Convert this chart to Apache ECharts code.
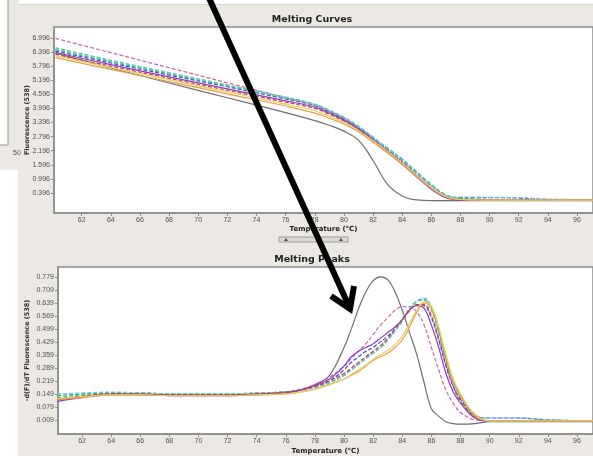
<!DOCTYPE html>
<html lang="en">
<head>
	<meta charset="UTF-8">
	<title>Melting Curves / Melting Peaks</title>
	<script src="https://cdn.jsdelivr.net/npm/echarts@6/dist/echarts.min.js"></script>
	<style>html,body{margin:0;padding:0;background:#ece9e4;}</style>
</head>
<body>
	<div id="main" style="width:593px;height:456px;"></div>
	<script type="text/javascript">
		var myChart = echarts.init(document.getElementById('main'));

		// temperatures (°C) the curves were read at
		var tempUpper = [60.2, 64, 68, 72, 76, 78, 79, 80, 81, 82, 83, 84, 85, 86, 87, 88, 89, 90, 92, 94, 97.1];
		var tempLower = [60.3, 62, 64, 66, 68, 70, 72, 74, 76, 77, 78, 79, 80, 80.5, 81, 81.5, 82, 82.5, 83, 83.5,
			84, 84.5, 85, 85.5, 86, 86.5, 87, 87.5, 88, 89, 90, 92, 94, 97.1];

		// tick labels
		var tempTicks = [62, 64, 66, 68, 70, 72, 74, 76, 78, 80, 82, 84, 86, 88, 90, 92, 94, 96];
		var fluorTicks = [0.396, 0.996, 1.596, 2.196, 2.796, 3.396, 3.996, 4.596, 5.196, 5.796, 6.396, 6.996];
		var peakTicks = [0.009, 0.079, 0.149, 0.219, 0.289, 0.359, 0.429, 0.499, 0.569, 0.639, 0.709, 0.779];

		// melting curves: fluorescence
		var curveGray   = [6.35, 5.72, 5.08, 4.45, 3.82, 3.48, 3.28, 3.03, 2.65, 1.78, 0.76, 0.27, 0.10, 0.07, 0.07, 0.07, 0.07, 0.07, 0.07, 0.07, 0.07];
		var curvePink   = [6.98, 6.37, 5.73, 5.09, 4.45, 4.15, 3.88, 3.58, 3.18, 2.70, 2.20, 1.70, 1.15, 0.62, 0.24, 0.13, 0.11, 0.10, 0.10, 0.10, 0.10];
		var curveGreen  = [6.58, 6.05, 5.52, 5.00, 4.48, 4.18, 3.92, 3.62, 3.24, 2.78, 2.30, 1.82, 1.28, 0.74, 0.30, 0.15, 0.12, 0.11, 0.10, 0.10, 0.10];
		var curveBlue   = [6.44, 5.93, 5.42, 4.92, 4.40, 4.12, 3.86, 3.56, 3.18, 2.72, 2.24, 1.76, 1.22, 0.70, 0.30, 0.20, 0.20, 0.20, 0.18, 0.12, 0.10];
		var curveTeal   = [6.50, 5.98, 5.46, 4.95, 4.43, 4.15, 3.90, 3.60, 3.22, 2.76, 2.30, 1.84, 1.30, 0.76, 0.32, 0.17, 0.14, 0.12, 0.11, 0.10, 0.10];
		var curveCyan   = [6.54, 6.02, 5.50, 4.98, 4.46, 4.16, 3.90, 3.60, 3.22, 2.76, 2.28, 1.80, 1.26, 0.72, 0.30, 0.22, 0.22, 0.21, 0.20, 0.14, 0.11];
		var curvePurple = [6.38, 5.86, 5.34, 4.83, 4.32, 4.05, 3.80, 3.50, 3.12, 2.64, 2.14, 1.62, 1.08, 0.56, 0.20, 0.10, 0.09, 0.09, 0.09, 0.09, 0.09];
		var curveRed    = [6.30, 5.80, 5.28, 4.77, 4.26, 4.00, 3.75, 3.46, 3.08, 2.62, 2.14, 1.66, 1.12, 0.62, 0.24, 0.11, 0.09, 0.09, 0.09, 0.09, 0.09];
		var curveOrange = [6.16, 5.66, 5.14, 4.62, 4.10, 3.80, 3.58, 3.34, 3.00, 2.56, 2.10, 1.62, 1.10, 0.60, 0.23, 0.12, 0.10, 0.09, 0.09, 0.09, 0.09];
		var curveYellow = [6.24, 5.74, 5.22, 4.70, 4.18, 3.90, 3.66, 3.42, 3.06, 2.62, 2.16, 1.68, 1.16, 0.64, 0.25, 0.12, 0.10, 0.09, 0.09, 0.09, 0.09];

		// melting peaks: -d(F)/dT
		var peakGray   = [0.12, 0.135, 0.15, 0.15, 0.145, 0.145, 0.145, 0.15, 0.16, 0.17, 0.20, 0.25, 0.40, 0.50, 0.61, 0.70, 0.76, 0.78, 0.765, 0.70,
			0.60, 0.48, 0.36, 0.21, 0.07, 0.03, 0.0, -0.01, -0.013, -0.01, 0.0, 0.0, 0.0, 0.0];
		var peakPink   = [0.12, 0.14, 0.15, 0.15, 0.145, 0.145, 0.145, 0.15, 0.16, 0.175, 0.20, 0.24, 0.30, 0.34, 0.38, 0.42, 0.47, 0.52, 0.56, 0.60,
			0.62, 0.62, 0.59, 0.52, 0.40, 0.28, 0.17, 0.10, 0.05, 0.01, 0.005, 0.005, 0.005, 0.005];
		var peakPurple = [0.11, 0.13, 0.145, 0.145, 0.14, 0.14, 0.14, 0.145, 0.155, 0.17, 0.195, 0.23, 0.30, 0.35, 0.38, 0.40, 0.42, 0.45, 0.48, 0.51,
			0.55, 0.60, 0.625, 0.61, 0.52, 0.40, 0.26, 0.16, 0.10, 0.02, 0.005, 0.005, 0.005, 0.005];
		var peakBlue   = [0.12, 0.135, 0.15, 0.15, 0.145, 0.145, 0.145, 0.15, 0.16, 0.17, 0.19, 0.22, 0.28, 0.32, 0.35, 0.38, 0.40, 0.43, 0.46, 0.50,
			0.55, 0.60, 0.63, 0.625, 0.56, 0.44, 0.30, 0.19, 0.12, 0.03, 0.02, 0.02, 0.01, 0.005];
		var peakGreen  = [0.13, 0.145, 0.155, 0.155, 0.15, 0.15, 0.15, 0.155, 0.16, 0.17, 0.185, 0.21, 0.25, 0.28, 0.31, 0.34, 0.37, 0.40, 0.44, 0.49,
			0.54, 0.60, 0.645, 0.655, 0.60, 0.48, 0.33, 0.21, 0.13, 0.03, 0.005, 0.005, 0.005, 0.005];
		var peakTeal   = [0.14, 0.15, 0.155, 0.155, 0.15, 0.15, 0.15, 0.155, 0.16, 0.17, 0.185, 0.21, 0.25, 0.28, 0.31, 0.34, 0.37, 0.40, 0.44, 0.49,
			0.55, 0.61, 0.65, 0.66, 0.61, 0.49, 0.34, 0.22, 0.14, 0.03, 0.005, 0.005, 0.005, 0.005];
		var peakCyan   = [0.15, 0.155, 0.16, 0.155, 0.15, 0.15, 0.15, 0.155, 0.16, 0.17, 0.185, 0.21, 0.25, 0.28, 0.31, 0.34, 0.37, 0.40, 0.44, 0.49,
			0.55, 0.61, 0.65, 0.665, 0.62, 0.50, 0.35, 0.22, 0.14, 0.04, 0.02, 0.02, 0.01, 0.005];
		var peakRed    = [0.12, 0.135, 0.15, 0.15, 0.145, 0.145, 0.145, 0.15, 0.16, 0.17, 0.19, 0.22, 0.26, 0.29, 0.32, 0.35, 0.38, 0.41, 0.45, 0.50,
			0.55, 0.60, 0.63, 0.63, 0.57, 0.45, 0.31, 0.19, 0.11, 0.02, 0.005, 0.005, 0.005, 0.005];
		var peakOrange = [0.12, 0.13, 0.145, 0.145, 0.14, 0.14, 0.14, 0.145, 0.15, 0.16, 0.175, 0.20, 0.23, 0.25, 0.27, 0.30, 0.33, 0.35, 0.37, 0.40,
			0.44, 0.51, 0.59, 0.64, 0.61, 0.50, 0.35, 0.22, 0.14, 0.03, 0.005, 0.005, 0.005, 0.005];
		var peakYellow = [0.125, 0.135, 0.145, 0.145, 0.14, 0.14, 0.14, 0.145, 0.15, 0.16, 0.175, 0.20, 0.23, 0.255, 0.28, 0.305, 0.335, 0.36, 0.385, 0.415,
			0.46, 0.53, 0.60, 0.645, 0.62, 0.51, 0.36, 0.23, 0.15, 0.04, 0.005, 0.005, 0.005, 0.005];

		// one entry per well: colour, dashed or not, curve, peak
		var wells = [
			['#6e6e6e', false, curveGray, peakGray],
			['#c868b0', true, curvePink, peakPink],
			['#58c858', true, curveGreen, peakGreen],
			['#3848c8', true, curveBlue, peakBlue],
			['#30a898', true, curveTeal, peakTeal],
			['#70c8e0', true, curveCyan, peakCyan],
			['#8838c8', false, curvePurple, peakPurple],
			['#d04040', true, curveRed, peakRed],
			['#f09a48', false, curveOrange, peakOrange],
			['#e0d060', false, curveYellow, peakYellow]
		];

		function pairs(xs, ys) {
			var out = [];
			for (var i = 0; i < xs.length; i++) out.push([xs[i], ys[i]]);
			return out;
		}

		var series = [];
		wells.forEach(function (w) {
			[0, 1].forEach(function (g) {
				series.push({
					type: 'line',
					xAxisIndex: g,
					yAxisIndex: g,
					data: g === 0 ? pairs(tempUpper, w[2]) : pairs(tempLower, w[3]),
					smooth: 0.4,
					showSymbol: false,
					silent: true,
					lineStyle: {color: w[0], width: 1.2, type: w[1] ? [4, 2] : 'solid'}
				});
			});
		});

		var labelFont = {fontFamily: 'Liberation Sans', fontSize: 7, color: '#505050'};
		var axisGray = '#8c8c8c';

		function xAxisFor(g, min, gap) {
			return {
				type: 'value', gridIndex: g, min: min, max: 97.1,
				name: 'Temperature (°C)', nameLocation: 'middle', nameGap: gap, nameMoveOverlap: false,
				nameTextStyle: {fontFamily: 'DejaVu Sans', fontWeight: 'bold', fontSize: 7, color: '#222'},
				axisLine: {onZero: false, lineStyle: {color: axisGray, width: 1.5}},
				axisTick: {customValues: tempTicks, length: 3, lineStyle: {color: axisGray}},
				axisLabel: Object.assign({customValues: tempTicks, margin: 4, formatter: function (v) { return v.toFixed(0); }}, labelFont),
				splitLine: {show: false}
			};
		}

		function yAxisFor(g, min, max, ticks, name, gap) {
			return {
				type: 'value', gridIndex: g, min: min, max: max,
				name: name, nameLocation: 'middle', nameGap: gap, nameRotate: 90, nameMoveOverlap: false,
				nameTextStyle: {fontFamily: 'DejaVu Sans', fontWeight: 'bold', fontSize: 6.5, color: '#333'},
				axisLine: {show: true, onZero: false, lineStyle: {color: axisGray, width: 1.5}},
				axisTick: {show: true, customValues: ticks, length: 3, lineStyle: {color: axisGray}},
				axisLabel: Object.assign({customValues: ticks, margin: 4, formatter: function (v) { return v.toFixed(3); }}, labelFont),
				splitLine: {show: false}
			};
		}

		var option = {
			backgroundColor: '#ece9e4',
			animation: false,
			title: [
				{text: 'Melting Curves', left: 307, top: 10, textAlign: 'center',
					textStyle: {fontFamily: 'DejaVu Sans', fontWeight: 'bold', fontSize: 9.5, color: '#222'}},
				{text: 'Melting Peaks', left: 307, top: 250, textAlign: 'center',
					textStyle: {fontFamily: 'DejaVu Sans', fontWeight: 'bold', fontSize: 9.5, color: '#222'}}
			],
			grid: [
				{left: 54, top: 27, right: 0, height: 186, show: true, backgroundColor: '#fff', borderColor: axisGray, borderWidth: 1.5},
				{left: 58, top: 267, right: 0, height: 167, show: true, backgroundColor: '#fff', borderColor: axisGray, borderWidth: 1.5}
			],
			xAxis: [xAxisFor(0, 60.1, 13), xAxisFor(1, 60.35, 14)],
			yAxis: [
				yAxisFor(0, -0.455, 7.464, fluorTicks, 'Fluorescence (538)', 23),
				yAxisFor(1, -0.066, 0.833, peakTicks, '-d(F)/dT Fluorescence (538)', 27)
			],
			graphic: [
				// top white strip and the edge of the panel on the left
				{type: 'rect', shape: {x: 19, y: 0, width: 574, height: 4}, style: {fill: '#fff'}},
				{type: 'rect', shape: {x: -2, y: -2, width: 10, height: 147}, style: {fill: '#fff', stroke: '#9a9a9a', lineWidth: 1}},
				{type: 'text', x: 17, y: 153, style: {text: '50', fontFamily: 'Liberation Sans', fontSize: 7, fill: '#505050', align: 'center', verticalAlign: 'middle'}},
				{type: 'rect', shape: {x: 0, y: 170, width: 18, height: 286}, style: {fill: '#fff'}},
				{type: 'line', shape: {x1: 19, y1: 4.5, x2: 593, y2: 4.5}, style: {stroke: '#d8d5d0', lineWidth: 1}},
				// little scroll bar under the upper chart
				{type: 'rect', shape: {x: 279, y: 237, width: 69, height: 5}, style: {fill: '#dedbd6', stroke: '#9a9a9a', lineWidth: 1}},
				{type: 'polygon', shape: {points: [[284, 241], [288, 241], [286, 238]]}, style: {fill: '#444'}},
				{type: 'polygon', shape: {points: [[339, 241], [343, 241], [341, 238]]}, style: {fill: '#444'}},
				// the black annotation arrow
				{type: 'line', z: 100, shape: {x1: 209, y1: -2, x2: 348, y2: 304}, style: {stroke: '#000', lineWidth: 6}},
				{type: 'polyline', z: 100, shape: {points: [[331, 296], [350, 309], [354, 286]]},
					style: {stroke: '#000', lineWidth: 6, lineJoin: 'miter', fill: null}}
			],
			series: series
		};

		myChart.setOption(option);
	</script>
</body>
</html>
